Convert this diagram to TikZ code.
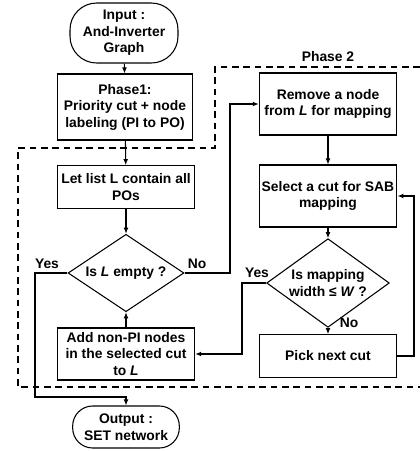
\documentclass[tikz,border=0pt]{standalone}
\usepackage{fontspec}
\setmainfont{Liberation Sans}
\usetikzlibrary{shapes,arrows.meta,calc}

\begin{document}
\begin{tikzpicture}[
    x=0.75pt, y=-0.75pt,
    font=\fontsize{10.4}{12.4}\selectfont\bfseries,
    line width=0.8pt,
    box/.style={rectangle, draw, align=center, minimum width=103pt, inner sep=2pt},
    terminal/.style={rectangle, draw, align=center, minimum width=81pt},
    decision/.style={diamond, draw, align=center, inner sep=-3pt},
    arrow/.style={-{Latex[length=4.5pt,width=3.6pt]}},
    phase/.style={dash pattern=on 5pt off 3.5pt, line width=1pt}
]
    \useasboundingbox (0,0) rectangle (420,451);

    % Start and end
    \node[terminal, rounded corners=20pt, minimum height=45pt] (input) at (124,33) {Input :\\And-Inverter\\Graph};
    \node[terminal, rounded corners=15pt, minimum height=31.5pt, minimum width=80pt] (output) at (126,427) {Output :\\SET network};

    % Phase 1
    \node[box, minimum width=101pt, minimum height=49.5pt] (phase1) at (125,107) {Phase1:\\Priority cut + node\\labeling (PI to PO)};

    % Phase 2, left column
    \node[box, minimum height=32pt] (initlist) at (126,187) {Let list L contain all\\POs};
    \node[decision, minimum width=87pt, minimum height=52.5pt] (empty) at (126,273) {Is \textit{L} empty ?};
    \node[box, minimum height=39pt] (addnodes) at (126,354) {Add non-PI nodes\\in the selected cut\\to \textit{L}};

    % Phase 2, right column
    \node[box, minimum height=46.5pt] (remove) at (328,104) {Remove a node\\from \textit{L} for mapping};
    \node[box, minimum height=46.5pt] (select) at (328,196) {Select a cut for SAB\\mapping};
    \node[decision, minimum width=92pt, minimum height=53pt] (fits) at (328,283) {Is mapping\\width ≤ \textit{W} ?};
    \node[box, minimum height=32pt] (nextcut) at (328,356) {Pick next cut};

    % Phase 2 frame
    \node (phase2) at (328,57) {Phase 2};
    \draw[phase] (420,67) -- (215,67) -- (215,148) -- (18,148) -- (18,387) -- (420,387);

    % Bends
    \coordinate (yesbend) at (35,397);
    \coordinate (nobend) at (230,273);
    \coordinate (fitbend) at (242,283);
    \coordinate (loopbend) at (414,356);

    % Edges
    \draw[arrow] (input) -- (phase1);
    \draw[arrow] (phase1) -- (initlist);
    \draw[arrow] (initlist) -- (empty);
    \draw[arrow] (addnodes) -- (empty);
    \draw[arrow] (empty.west) -| (yesbend) -| (output.north);
    \draw[arrow] (empty.east) -- (nobend) |- (remove.west);
    \draw[arrow] (remove) -- (select);
    \draw[arrow] (select) -- (fits);
    \draw[arrow] (fits) -- (nextcut);
    \draw[arrow] (fits.west) -- (fitbend) |- (addnodes.east);
    \draw[arrow] (nextcut.east) -- (loopbend) |- (select.east);

    % Branch labels
    \node (yes1) at (47,264) {Yes};
    \node (no1) at (197,264) {No};
    \node (yes2) at (257,273) {Yes};
    \node (no2) at (349,323) {No};
\end{tikzpicture}
\end{document}
